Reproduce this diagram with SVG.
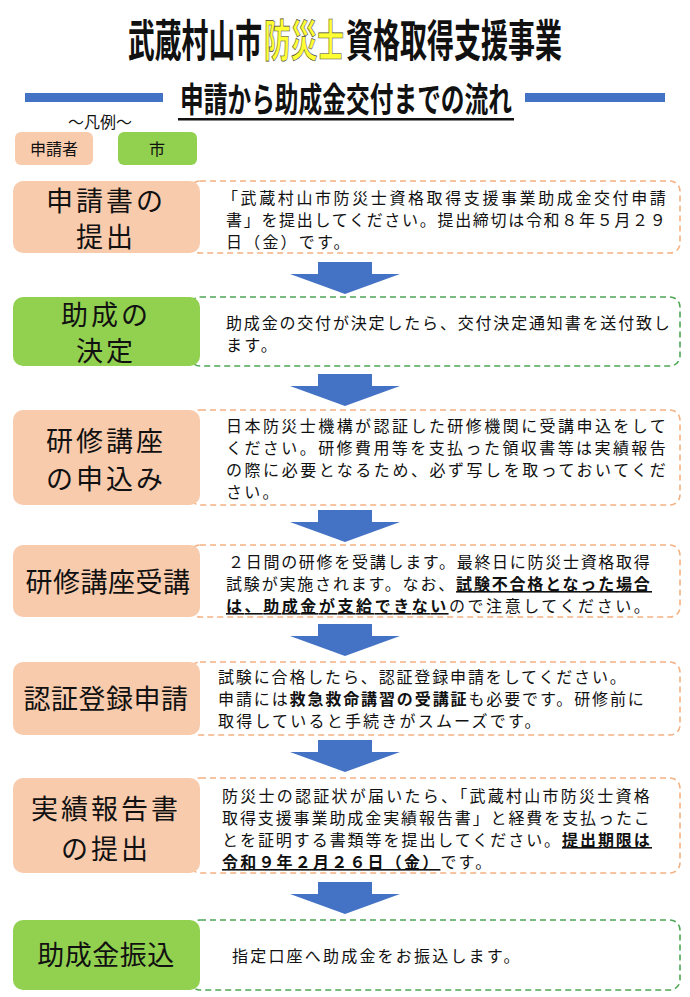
<svg xmlns="http://www.w3.org/2000/svg" width="690" height="997" viewBox="0 0 690 997">
<style>
text{font-family:"Noto Sans CJK JP","Noto Sans CJK SC",sans-serif;fill:#111}
.t{font-size:16px;letter-spacing:2.2px}
.lbl{font-size:27px;text-anchor:middle;letter-spacing:3px;font-weight:400}
.pe{fill:#F8CBAD}
.gr{fill:#92D050}
.dpe{fill:#fff;stroke:#F4B183;stroke-width:1.6;stroke-dasharray:6 4}
.dgr{fill:#fff;stroke:#4EA754;stroke-width:1.6;stroke-dasharray:6 4}
.b{font-weight:bold;text-decoration:underline}
.bb{font-weight:bold}
.arr{fill:#4472C4}
.h1{font-size:44px;font-weight:bold}
</style>
<rect width="690" height="997" fill="#fff"/>
<g id="title">
<text class="h1" x="128" y="57" textLength="134" lengthAdjust="spacingAndGlyphs">武蔵村山市</text>
<text class="h1" x="264" y="57" textLength="80" lengthAdjust="spacingAndGlyphs" stroke="#444" stroke-width="0.7" style="fill:#FFFF33">防災士</text>
<text class="h1" x="346" y="57" textLength="216" lengthAdjust="spacingAndGlyphs">資格取得支援事業</text>
<rect x="25" y="93" width="138" height="9" fill="#4472C4"/>
<rect x="525" y="93" width="140" height="9" fill="#4472C4"/>
<text x="180" y="112" font-size="34" font-weight="bold" textLength="332" lengthAdjust="spacingAndGlyphs">申請から助成金交付までの流れ</text>
<rect x="178" y="118" width="336" height="2.5" fill="#111"/>
</g>
<g id="legend">
<text x="100" y="128" font-size="16" text-anchor="middle">～凡例～</text>
<rect x="15" y="132" width="78" height="33" rx="6" class="pe"/>
<text x="54" y="155" font-size="16" text-anchor="middle">申請者</text>
<rect x="118" y="132" width="79" height="33" rx="6" class="gr"/>
<text x="157" y="155" font-size="16" text-anchor="middle">市</text>
</g>
<g id="connectors">
<polygon class="arr" points="318,262 372,262 372,274 400,274 345,294 290,274 318,274"/>
<polygon class="arr" points="318,374 372,374 372,386 400,386 345,406 290,386 318,386"/>
<polygon class="arr" points="318,510 372,510 372,522 400,522 345,542 290,522 318,522"/>
<polygon class="arr" points="318,624 372,624 372,636 400,636 345,656 290,636 318,636"/>
<polygon class="arr" points="318,740 372,740 372,752 400,752 345,772 290,752 318,752"/>
<polygon class="arr" points="318,882 372,882 372,894 400,894 345,914 290,894 318,894"/>
</g>
<g id="step1">
<rect x="190" y="181" width="490" height="72" rx="10" class="dpe"/>
<rect x="13" y="181" width="187" height="72" rx="10" class="pe"/>
<text class="lbl" x="106" y="211">申請書の</text>
<text class="lbl" x="106" y="247">提出</text>
<text class="t" x="222" y="204" textLength="446">「武蔵村山市防災士資格取得支援事業助成金交付申請</text>
<text class="t" x="226" y="226" textLength="442">書」を提出してください。提出締切は令和８年５月２９</text>
<text class="t" x="226" y="248">日（金）です。</text>
</g>
<g id="step2">
<rect x="190" y="297" width="490" height="69" rx="10" class="dgr"/>
<rect x="13" y="297" width="187" height="69" rx="10" class="gr"/>
<text class="lbl" x="106" y="325">助成の</text>
<text class="lbl" x="106" y="361">決定</text>
<text class="t" x="226" y="329" textLength="446">助成金の交付が決定したら、交付決定通知書を送付致し</text>
<text class="t" x="226" y="351">ます。</text>
</g>
<g id="step3">
<rect x="190" y="410" width="490" height="95" rx="10" class="dpe"/>
<rect x="13" y="410" width="187" height="95" rx="10" class="pe"/>
<text class="lbl" x="106" y="451">研修講座</text>
<text class="lbl" x="106" y="489">の申込み</text>
<text class="t" x="226" y="432" textLength="442">日本防災士機構が認証した研修機関に受講申込をして</text>
<text class="t" x="226" y="454" textLength="442">ください。研修費用等を支払った領収書等は実績報告</text>
<text class="t" x="226" y="476" textLength="442">の際に必要となるため、必ず写しを取っておいてくだ</text>
<text class="t" x="226" y="498">さい。</text>
</g>
<g id="step4">
<rect x="190" y="545" width="490" height="72" rx="10" class="dpe"/>
<rect x="13" y="545" width="187" height="72" rx="10" class="pe"/>
<text class="lbl" x="108" y="592" style="letter-spacing:0.5px">研修講座受講</text>
<text class="t" x="228" y="568" textLength="424">２日間の研修を受講します。最終日に防災士資格取得</text>
<text class="t" x="226" y="590" textLength="426">試験が実施されます。なお、<tspan class="b">試験不合格となった場合</tspan></text>
<text class="t" x="226" y="612" textLength="426"><tspan class="b">は、助成金が支給できない</tspan>ので注意してください。</text>
</g>
<g id="step5">
<rect x="190" y="662" width="490" height="73" rx="10" class="dpe"/>
<rect x="13" y="662" width="187" height="73" rx="10" class="pe"/>
<text class="lbl" x="106" y="709" style="letter-spacing:0.5px">認証登録申請</text>
<text class="t" x="218" y="683" textLength="410">試験に合格したら、認証登録申請をしてください。</text>
<text class="t" x="218" y="705" textLength="428">申請には<tspan class="bb">救急救命講習の受講証</tspan>も必要です。研修前に</text>
<text class="t" x="218" y="727">取得していると手続きがスムーズです。</text>
</g>
<g id="step6">
<rect x="190" y="778" width="490" height="95" rx="10" class="dpe"/>
<rect x="13" y="778" width="187" height="95" rx="10" class="pe"/>
<text class="lbl" x="106" y="819">実績報告書</text>
<text class="lbl" x="106" y="859">の提出</text>
<text class="t" x="222" y="802" textLength="430">防災士の認証状が届いたら、「武蔵村山市防災士資格</text>
<text class="t" x="222" y="824" textLength="430">取得支援事業助成金実績報告書」と経費を支払ったこ</text>
<text class="t" x="222" y="846" textLength="430">とを証明する書類等を提出してください。<tspan class="b">提出期限は</tspan></text>
<text class="t" x="222" y="868"><tspan class="b">令和９年２月２６日（金）</tspan>です。</text>
</g>
<g id="step7">
<rect x="190" y="920" width="490" height="70" rx="10" class="dgr"/>
<rect x="13" y="920" width="187" height="70" rx="10" class="gr"/>
<text class="lbl" x="106" y="965" style="letter-spacing:0.5px">助成金振込</text>
<text class="t" x="232" y="962">指定口座へ助成金をお振込します。</text>
</g>
</svg>
